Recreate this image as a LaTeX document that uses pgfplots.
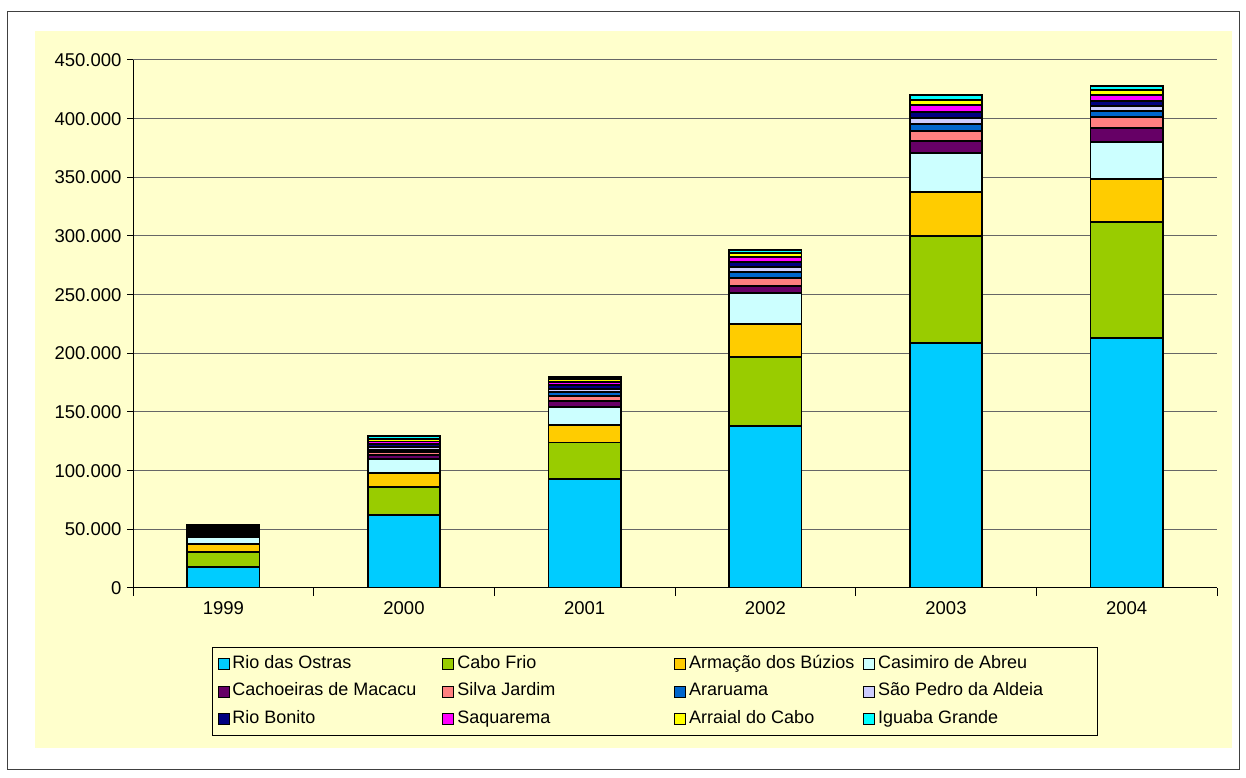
\documentclass[border=0pt]{standalone}
\usepackage{pgfplots}
\pgfplotsset{compat=1.18}
\usepackage{fontspec}
\setmainfont{Liberation Sans}
\definecolor{bgy}{HTML}{FFFFCC}
\definecolor{cRio}{HTML}{00CCFF}
\definecolor{cCabo}{HTML}{99CC00}
\definecolor{cArm}{HTML}{FFCC00}
\definecolor{cCas}{HTML}{CCFFFF}
\definecolor{cCach}{HTML}{660066}
\definecolor{cSil}{HTML}{FF8080}
\definecolor{cAra}{HTML}{0066CC}
\definecolor{cSao}{HTML}{CCCCFF}
\definecolor{cBon}{HTML}{000080}
\definecolor{cSaq}{HTML}{FF00FF}
\definecolor{cArr}{HTML}{FFFF00}
\definecolor{cIgu}{HTML}{00FFFF}
\tikzset{seg/.style={draw=black, line width=1.8pt}}
\begin{document}
\begin{tikzpicture}
\useasboundingbox (0pt,0pt) rectangle (1246pt,778pt);
\fill[white] (0pt,0pt) rectangle (1246pt,778pt);
\draw[black!75, line width=1pt] (7.5pt,8pt) rectangle (1239pt,766pt);
\fill[bgy] (35pt,30pt) rectangle (1232pt,747pt);
\begin{axis}[
  at={(133pt,190pt)}, anchor=south west,
  scale only axis, width=1084pt, height=528pt,
  ybar stacked, bar width=0.4,
  xmin=0, xmax=6, ymin=0, ymax=450000,
  axis lines*=left, axis line style={-, black, line width=1pt},
  tick align=outside,
  xtick={0.5,1.5,2.5,3.5,4.5,5.5},
  xticklabels={1999,2000,2001,2002,2003,2004},
  minor xtick={0,1,2,3,4,5,6},
  major x tick style={draw=none},
  minor x tick style={black, line width=1pt},
  minor tick length=8pt,
  ytick={0,50000,...,450000},
  major tick length=6pt,
  y tick style={black, line width=1pt},
  ymajorgrids, major grid style={black!60, line width=1pt},
  scaled y ticks=false,
  yticklabel style={xshift=-2pt, /pgf/number format/.cd, fixed, precision=0, 1000 sep={.}, assume math mode=true},
  xticklabel style={yshift=-4pt, /pgf/number format/assume math mode=true},
  tick label style={font=\fontsize{18.5}{22}\selectfont},
  legend image code/.code={\draw[#1, draw=black, line width=0.9pt] (0pt,-5.5pt) rectangle (11pt,5.5pt);},
  legend columns=4,
  legend style={at={(0.0729,-0.1117)}, anchor=north west, draw=black, line width=1pt, fill=bgy,
    font=\fontsize{18}{21}\selectfont, inner xsep=5pt, inner ysep=8.5pt,
    nodes={inner sep=0pt, text height=12.5pt, text depth=3.5pt}, row sep=11.5pt,
    /tikz/every odd column/.append style={column sep=3pt}},
]
\addplot[seg, fill=cRio] coordinates {(0.5,17900) (1.5,62000) (2.5,92900) (3.5,138000) (4.5,208800) (5.5,213000)};
\addlegendentry{\makebox[210pt][l]{Rio das Ostras}}
\addplot[seg, fill=cCabo] coordinates {(0.5,12800) (1.5,24000) (2.5,31100) (3.5,58900) (4.5,91200) (5.5,98900)};
\addlegendentry{\makebox[217pt][l]{Cabo Frio}}
\addplot[seg, fill=cArm] coordinates {(0.5,6800) (1.5,12000) (2.5,14900) (3.5,28100) (4.5,37800) (5.5,36700)};
\addlegendentry{\makebox[174pt][l]{Armação dos Búzios}}
\addplot[seg, fill=cCas] coordinates {(0.5,6000) (1.5,12000) (2.5,15400) (3.5,26100) (4.5,33200) (5.5,31800)};
\addlegendentry{\makebox[214pt][l]{Casimiro de Abreu}}
\addplot[seg, fill=cCach] coordinates {(0.5,2000) (1.5,3400) (2.5,5100) (3.5,6500) (4.5,10000) (5.5,11400)};
\addlegendentry{\makebox[210pt][l]{Cachoeiras de Macacu}}
\addplot[seg, fill=cSil] coordinates {(0.5,1200) (1.5,2500) (2.5,4200) (3.5,6900) (4.5,8500) (5.5,9300)};
\addlegendentry{\makebox[217pt][l]{Silva Jardim}}
\addplot[seg, fill=cAra] coordinates {(0.5,1200) (1.5,2000) (2.5,3200) (3.5,4500) (4.5,6000) (5.5,5300)};
\addlegendentry{\makebox[174pt][l]{Araruama}}
\addplot[seg, fill=cSao] coordinates {(0.5,1200) (1.5,2000) (2.5,2500) (3.5,4300) (4.5,5300) (5.5,4600)};
\addlegendentry{\makebox[214pt][l]{São Pedro da Aldeia}}
\addplot[seg, fill=cBon] coordinates {(0.5,1200) (1.5,2500) (2.5,3400) (3.5,4500) (4.5,5000) (5.5,4300)};
\addlegendentry{\makebox[210pt][l]{Rio Bonito}}
\addplot[seg, fill=cSaq] coordinates {(0.5,1200) (1.5,2500) (2.5,2600) (3.5,4000) (4.5,5700) (5.5,5000)};
\addlegendentry{\makebox[217pt][l]{Saquarema}}
\addplot[seg, fill=cArr] coordinates {(0.5,1000) (1.5,2000) (2.5,2600) (3.5,3500) (4.5,4400) (5.5,4000)};
\addlegendentry{\makebox[174pt][l]{Arraial do Cabo}}
\addplot[seg, fill=cIgu] coordinates {(0.5,1000) (1.5,2500) (2.5,1900) (3.5,2700) (4.5,4100) (5.5,3800)};
\addlegendentry{\makebox[214pt][l]{Iguaba Grande}}
\end{axis}
\end{tikzpicture}
\end{document}
